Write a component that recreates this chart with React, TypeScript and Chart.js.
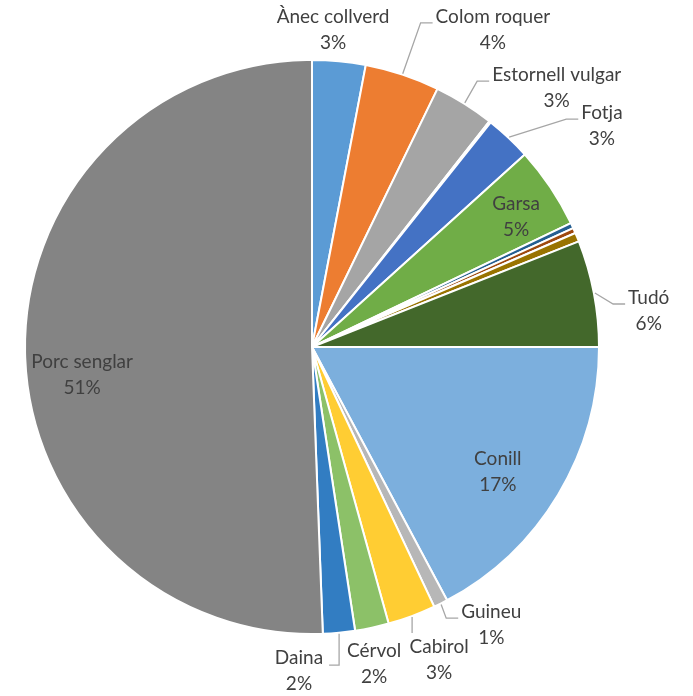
import React, { useEffect, useRef } from "react";
import { Chart, ArcElement, PieController } from "chart.js";

Chart.register(ArcElement, PieController);

const categories = [
  "Ànec collverd",
  "Colom roquer",
  "Estornell vulgar",
  "",
  "Fotja",
  "Garsa",
  "",
  "",
  "",
  "Tudó",
  "Conill",
  "Guineu",
  "Cabirol",
  "Cérvol",
  "Daina",
  "Porc senglar",
];

const values = [30, 42, 34, 1, 26, 46, 3, 3, 5, 60, 172, 8, 27, 19, 18, 506];

const colors = [
  "#5B9BD5",
  "#ED7D31",
  "#A5A5A5",
  "#FFC000",
  "#4472C4",
  "#70AD47",
  "#255E91",
  "#9E480E",
  "#997300",
  "#43682B",
  "#7CAFDD",
  "#B7B7B7",
  "#FFCD33",
  "#8CC168",
  "#327DC2",
  "#848484",
];

// label placement: angle (deg clockwise from top), distance as a fraction of the radius, leader style
const labelAngles = [3.8, 29.7, 43.4, 0, 52.7, 57.5, 0, 0, 0, 83.9, 123.9, 147.2, 157.9, 168.9, 182.3, 263];
const labelRadii = [1.107, 1.272, 1.241, 0, 1.27, 0.843, 0, 0, 0, 1.18, 0.78, 1.153, 1.177, 1.125, 1.13, 0.807];
const leaderSides = ["none", "left", "left", "", "left", "none", "", "", "", "left", "none", "left", "top", "none", "right", "none"];

const FONT = "19px Lato";
const LINE = 26;
const TEXT_COLOR = "#404040";
const LEADER_COLOR = "#A6A6A6";

const labelPlugin = {
  id: "pieLabels",
  afterDatasetsDraw(chart: any) {
    const ctx = chart.ctx as CanvasRenderingContext2D;
    const meta = chart.getDatasetMeta(0);
    const total = values.reduce((a, b) => a + b, 0);
    ctx.save();
    ctx.font = FONT;
    ctx.textAlign = "center";
    ctx.textBaseline = "middle";
    meta.data.forEach((arc: any, i: number) => {
      const name = categories[i];
      if (!name) return;
      const { x, y, startAngle, endAngle, outerRadius } = arc.getProps(
        ["x", "y", "startAngle", "endAngle", "outerRadius"],
        true
      );
      const a = ((labelAngles[i] - 90) * Math.PI) / 180;
      const cx = x + Math.cos(a) * outerRadius * labelRadii[i];
      const cy = y + Math.sin(a) * outerRadius * labelRadii[i];
      const pct = Math.round((values[i] / total) * 100) + "%";
      const nameY = cy - LINE / 2;
      const pctY = cy + LINE / 2;
      const w = ctx.measureText(name).width;
      const side = leaderSides[i];
      if (side === "left" || side === "right" || side === "top") {
        const mid = (startAngle + endAngle) / 2;
        const sx = x + Math.cos(mid) * (outerRadius + 1);
        const sy = y + Math.sin(mid) * (outerRadius + 1);
        let ex: number, ey: number, bx: number, by: number;
        if (side === "left") {
          ex = cx - w / 2 - 3;
          ey = nameY + 6;
          bx = ex - Math.min(12, Math.max(0, ex - sx));
          by = ey;
        } else if (side === "right") {
          ex = cx + w / 2 + 6;
          ey = nameY + 7;
          bx = ex + Math.min(12, Math.max(0, sx - ex));
          by = ey;
        } else {
          ex = sx;
          ey = nameY - 14;
          bx = sx;
          by = ey;
        }
        ctx.strokeStyle = LEADER_COLOR;
        ctx.lineWidth = 1.3;
        ctx.beginPath();
        ctx.moveTo(sx, sy);
        ctx.lineTo(bx, by);
        ctx.lineTo(ex, ey);
        ctx.stroke();
      }
      ctx.fillStyle = TEXT_COLOR;
      ctx.fillText(name, cx, nameY);
      ctx.fillText(pct, cx, pctY);
    });
    ctx.restore();
  },
};

export default function App() {
  const ref = useRef<HTMLCanvasElement | null>(null);
  useEffect(() => {
    if (!ref.current) return;
    const chart = new Chart(ref.current, {
      type: "pie",
      data: {
        labels: categories,
        datasets: [
          {
            data: values,
            backgroundColor: colors,
            borderColor: "#FFFFFF",
            borderWidth: 2,
          },
        ],
      },
      options: {
        responsive: false,
        animation: false,
        layout: { padding: { left: 24, right: 93, top: 59, bottom: 61 } },
        plugins: { legend: { display: false }, tooltip: { enabled: false } },
        events: [],
      },
      plugins: [labelPlugin],
    });
    return () => chart.destroy();
  }, []);
  return (
    <div style={{ position: "absolute", left: 0, top: 0, width: 693, height: 696, background: "#fff" }}>
      <canvas ref={ref} width={693} height={696} style={{ width: 693, height: 696 }} />
    </div>
  );
}
